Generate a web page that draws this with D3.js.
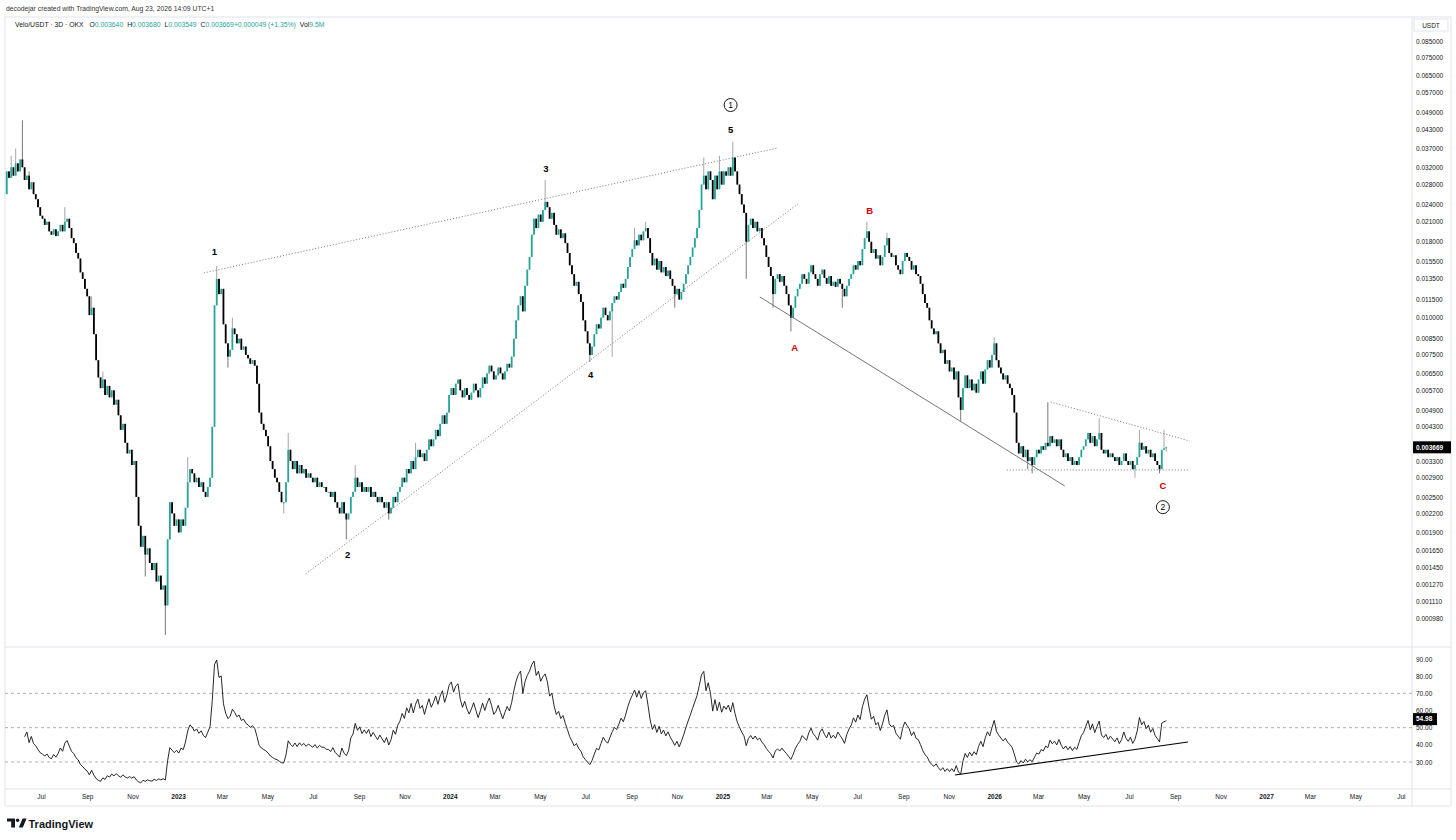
<!DOCTYPE html>
<html>
<head>
<meta charset="utf-8">
<script src="https://cdn.jsdelivr.net/npm/d3@7"></script>
<style>
body { margin: 0; background: #fff; }
svg { display: block; font-family: "Liberation Sans", Arial, sans-serif; }
</style>
</head>
<body>
<svg width="1456" height="840"></svg>
<script>
// ---- data (3D candles, Velo/USDT, OKX) ----
const startDate = new Date(Date.UTC(2022, 4, 16)); // first candle
const stepDays = 3;
const firstOpen = 0.026;
const closes = [
  0.031,0.0295,0.032,0.030,0.033,0.031,0.034,0.032,0.029,0.030,
  0.027,0.0285,0.026,0.025,0.0235,0.022,0.0215,0.0205,0.021,0.0195,
  0.019,0.0198,0.0188,0.0195,0.0205,0.0195,0.021,0.0215,0.020,0.0185,
  0.0178,0.0165,0.0158,0.0142,0.0135,0.0125,0.0118,0.0102,0.0108,0.0088,
  0.0072,0.0063,0.0058,0.0062,0.0055,0.0059,0.0054,0.0057,0.0051,0.0053,
  0.0047,0.0042,0.0044,0.0038,0.0035,0.0036,0.0032,0.0033,0.0025,0.0020,
  0.0017,0.00185,0.0016,0.00168,0.0015,0.00142,0.0015,0.0013,0.00136,0.00122,
  0.00126,0.00108,0.0018,0.0024,0.0022,0.0020,0.0021,0.0019,0.0021,0.0020,
  0.0023,0.0028,0.0031,0.0030,0.0028,0.0029,0.0027,0.0028,0.0026,0.0025,
  0.0027,0.0029,0.0043,0.0110,0.0135,0.0120,0.0125,0.0095,0.0082,0.0074,
  0.0078,0.0092,0.0088,0.0082,0.0085,0.0078,0.0080,0.0075,0.0073,0.0070,
  0.0072,0.0069,0.0060,0.0048,0.0044,0.0042,0.0040,0.0037,0.0033,0.0031,
  0.0029,0.0028,0.0026,0.0024,0.0024,0.0028,0.0036,0.0033,0.0031,0.0033,
  0.0030,0.0032,0.0030,0.0031,0.0029,0.0030,0.0029,0.0028,0.0029,0.0027,
  0.0028,0.0027,0.0027,0.0026,0.0026,0.0025,0.0026,0.0024,0.0023,0.0022,
  0.0024,0.0022,0.0021,0.0022,0.0025,0.0026,0.0029,0.0027,0.0028,0.0026,
  0.0027,0.0026,0.0027,0.0025,0.0026,0.0025,0.0024,0.0025,0.0024,0.0023,
  0.0024,0.0022,0.0023,0.0025,0.0024,0.0026,0.0027,0.0029,0.0028,0.0031,
  0.0030,0.0033,0.0031,0.0034,0.0036,0.0034,0.0035,0.0033,0.0036,0.0039,
  0.0037,0.0039,0.0042,0.0040,0.0044,0.0047,0.0044,0.0048,0.0055,0.0058,
  0.0055,0.0060,0.0062,0.0057,0.0054,0.0058,0.0055,0.0053,0.0056,0.0060,
  0.0057,0.0054,0.0058,0.0063,0.0060,0.0065,0.0069,0.0066,0.0062,0.0064,
  0.0068,0.0065,0.0062,0.0066,0.0070,0.0068,0.0074,0.0085,0.0098,0.0110,
  0.0118,0.0105,0.0128,0.0145,0.0160,0.0190,0.0215,0.0200,0.0222,0.0210,
  0.0230,0.0245,0.0235,0.0215,0.0225,0.0205,0.0190,0.0198,0.0185,0.0192,
  0.0178,0.0165,0.0150,0.0140,0.0128,0.0132,0.0120,0.0113,0.0098,0.0090,
  0.0082,0.0075,0.0080,0.0088,0.0095,0.0092,0.0100,0.0108,0.0102,0.0098,
  0.0105,0.0112,0.0118,0.0115,0.0122,0.0130,0.0126,0.0135,0.0148,0.0160,
  0.0170,0.0182,0.0175,0.0190,0.0182,0.0195,0.0200,0.0185,0.0165,0.0150,
  0.0158,0.0145,0.0155,0.0142,0.0148,0.0138,0.0144,0.0135,0.0128,0.0120,
  0.0125,0.0115,0.0122,0.0130,0.0140,0.0150,0.0160,0.0172,0.0185,0.0200,
  0.0230,0.0280,0.0300,0.0270,0.0310,0.0290,0.0250,0.0300,0.0270,0.0310,
  0.0280,0.0310,0.0300,0.0320,0.0300,0.0345,0.0310,0.0280,0.0260,0.0240,
  0.0225,0.0180,0.0205,0.0215,0.0200,0.0210,0.0195,0.0200,0.0185,0.0175,
  0.0160,0.0148,0.0138,0.0120,0.0135,0.0140,0.0132,0.0138,0.0128,0.0120,
  0.0110,0.0100,0.0108,0.0118,0.0125,0.0130,0.0140,0.0135,0.0130,0.0142,
  0.0150,0.0140,0.0135,0.0128,0.0140,0.0145,0.0136,0.0130,0.0138,0.0128,
  0.0132,0.0127,0.0135,0.0130,0.0125,0.0118,0.0128,0.0135,0.0140,0.0150,
  0.0145,0.0155,0.0150,0.0170,0.0185,0.0195,0.0180,0.0165,0.0170,0.0158,
  0.0162,0.0150,0.0160,0.0175,0.0185,0.0165,0.0160,0.0162,0.0150,0.0145,
  0.0140,0.0155,0.0165,0.0160,0.0155,0.0145,0.0150,0.0140,0.0138,0.0130,
  0.0120,0.0112,0.0108,0.0098,0.0092,0.0088,0.0090,0.0082,0.0076,0.0078,
  0.0070,0.0072,0.0066,0.0068,0.0062,0.0066,0.0054,0.0049,0.0058,0.0064,
  0.0058,0.0062,0.0057,0.0060,0.0056,0.0062,0.0066,0.0060,0.0067,0.0072,
  0.0068,0.0075,0.0082,0.0072,0.0068,0.0065,0.0062,0.0064,0.0060,0.0058,
  0.0055,0.0048,0.0038,0.0035,0.0037,0.0034,0.0036,0.0033,0.0034,0.0032,
  0.0034,0.0036,0.0035,0.0037,0.0036,0.0038,0.0037,0.0040,0.0038,0.0039,
  0.0037,0.0039,0.0036,0.0034,0.0035,0.0033,0.0034,0.0032,0.0033,0.0032,
  0.0034,0.0036,0.0037,0.0039,0.0041,0.0038,0.0040,0.0037,0.0039,0.0041,
  0.0036,0.0035,0.0036,0.0034,0.0035,0.0034,0.0033,0.0034,0.0032,0.0033,
  0.0035,0.0033,0.0032,0.0033,0.0031,0.0032,0.0034,0.0038,0.0036,0.0037,
  0.0035,0.0036,0.0034,0.0035,0.0033,0.0032,0.0031,0.0036,0.00364,0.003669
];
// notable wicks beyond the bodies: [candle index, price]
const highWicks = [
  [2,0.035],[4,0.037],[7,0.046],[10,0.031],[26,0.0235],[38,0.0118],[43,0.0066],[81,0.0034],
  [94,0.0149],[101,0.0100],[113,0.0052],[126,0.0041],[156,0.0032],[183,0.0038],
  [241,0.029],[281,0.020],[286,0.021],[312,0.0345],[319,0.035],[325,0.039],
  [385,0.021],[394,0.0193],[442,0.0086],[466,0.0052],[489,0.0046],[507,0.0042],
  [518,0.0042],[519,0.00368]
];
const lowWicks = [
  [62,0.00135],[71,0.00086],[99,0.0068],[124,0.0022],[152,0.0018],[171,0.0021],
  [261,0.0071],[271,0.0074],[299,0.0108],[331,0.0135],[343,0.0108],[351,0.0090],
  [374,0.0108],[427,0.0045],[457,0.0031],[459,0.0030],[505,0.0029],[516,0.0030],
  [519,0.003549]
];
const priceTicks = [0.085,0.075,0.065,0.057,0.049,0.043,0.037,0.032,0.028,0.024,0.021,
  0.018,0.0155,0.0135,0.0115,0.010,0.0085,0.0075,0.0065,0.0057,0.0049,0.0043,0.0037,
  0.0033,0.0029,0.0025,0.0022,0.0019,0.00165,0.00145,0.00127,0.00111,0.00098];
const rsiTicks = [90,80,70,60,50,40,30];
const rsiLevels = [70,50,30];
const rsiLength = 14;
const rsiWarmup = 8;
const lastPrice = 0.003669;
const lastRsi = 54.98;
const timeTickLabels = ["Jul","Sep","Nov","2023","Mar","May","Jul","Sep","Nov","2024","Mar","May",
  "Jul","Sep","Nov","2025","Mar","May","Jul","Sep","Nov","2026","Mar","May","Jul","Sep","Nov",
  "2027","Mar","May","Jul"];
const legendItems = [["O","0.003640"],["H","0.003680"],["L","0.003549"],["C","0.003669"],["","+0.000049 (+1.35%)"],["Vol","9.5M"]];
// elliott wave labels: candle index, price
const waveLabels = [
  {t:"1", i:93, p:0.0166, c:"#000"},
  {t:"2", i:152.6, p:0.0016, c:"#000"},
  {t:"3", i:241.3, p:0.0316, c:"#000"},
  {t:"4", i:261.4, p:0.00642, c:"#000"},
  {t:"5", i:324, p:0.0427, c:"#000"},
  {t:"1", i:324, p:0.0518, c:"#000", ring:true},
  {t:"A", i:352.7, p:0.00791, c:"#c00"},
  {t:"B", i:386.3, p:0.0228, c:"#c00"},
  {t:"C", i:517.5, p:0.00272, c:"#c00"},
  {t:"2", i:517.5, p:0.00231, c:"#000", ring:true}
];
// drawn trendlines: [i1, p1, i2, p2]
const priceLines = [
  {a:[88.2,0.01414,345.1,0.03715], dash:true},
  {a:[133.8,0.001378,354.1,0.0241], dash:true},
  {a:[337.1,0.01174,473.6,0.00272], dash:false},
  {a:[467.3,0.00521,529.5,0.003853], dash:true},
  {a:[447.6,0.00308,529.5,0.00308], dash:true}
];
const rsiLine = [424.4,22.4,528.7,41.65];

// ---- layout ----
const frameL = 5, paneR = 1412, axisR = 1451, frameT = 17;
const priceB = 647, rsiB = 789, frameB = 806;
const teal = "#26a69a";

const svg = d3.select("svg");
const dayMs = 864e5;
const dateOf = i => new Date(startDate.getTime() + i * stepDays * dayMs);

const x = d3.scaleUtc()
  .domain([new Date(Date.UTC(2022, 6, 1)), new Date(Date.UTC(2026, 6, 1))])
  .range([41, 1129]);
const y = d3.scaleLog().domain([0.00098, 0.085]).range([618, 41]);
const yR = d3.scaleLinear().domain([30, 90]).range([762, 659]);
const xi = i => x(dateOf(i));

const defs = svg.append("defs");
defs.append("clipPath").attr("id", "cp").append("rect")
  .attr("x", frameL).attr("y", frameT).attr("width", paneR - frameL).attr("height", priceB - frameT);
defs.append("clipPath").attr("id", "cr").append("rect")
  .attr("x", frameL).attr("y", priceB).attr("width", paneR - frameL).attr("height", rsiB - priceB);

// header
svg.append("text").attr("x", 6).attr("y", 11).attr("font-size", 6.8).attr("fill", "#333")
  .text("decodejar created with TradingView.com, Aug 23, 2026 14:09 UTC+1");

// frame
const frame = svg.append("g").attr("stroke", "#e0e3eb").attr("fill", "none");
frame.append("rect").attr("x", frameL).attr("y", frameT).attr("width", axisR - frameL).attr("height", frameB - frameT);
frame.append("line").attr("x1", paneR).attr("x2", paneR).attr("y1", frameT).attr("y2", frameB);
frame.append("line").attr("x1", frameL).attr("x2", axisR).attr("y1", priceB).attr("y2", priceB);
frame.append("line").attr("x1", frameL).attr("x2", axisR).attr("y1", rsiB).attr("y2", rsiB);
svg.append("rect").attr("x", 1414).attr("y", 19).attr("width", 34).attr("height", 12)
  .attr("fill", "#fff").attr("stroke", "#e0e3eb");
svg.append("text").attr("x", 1431).attr("y", 27.5).attr("text-anchor", "middle")
  .attr("font-size", 6.5).attr("fill", "#131722").text("USDT");

// legend
const leg = svg.append("text").attr("x", 15).attr("y", 26.5).attr("font-size", 6.8).attr("fill", "#131722");
leg.append("tspan").text("Velo/USDT · 3D · OKX ");
legendItems.forEach(([k, v]) => {
  leg.append("tspan").attr("dx", 4).text(k);
  leg.append("tspan").attr("fill", teal).text(v);
});

// ---- candles ----
const candles = closes.map((c, i) => {
  const o = i === 0 ? firstOpen : closes[i - 1];
  return { i, o, c, h: Math.max(o, c), l: Math.min(o, c) };
});
highWicks.forEach(([i, p]) => { candles[i].h = Math.max(candles[i].h, p); });
lowWicks.forEach(([i, p]) => { candles[i].l = Math.min(candles[i].l, p); });

const cg = svg.append("g").attr("clip-path", "url(#cp)");
cg.selectAll("line.wick").data(candles).join("line")
  .attr("class", "wick")
  .attr("x1", d => xi(d.i)).attr("x2", d => xi(d.i))
  .attr("y1", d => y(d.h)).attr("y2", d => y(d.l))
  .attr("stroke", d => d.c >= d.o ? "#8f8f8f" : "#555").attr("stroke-width", 0.8);
cg.selectAll("rect.body").data(candles).join("rect")
  .attr("class", "body")
  .attr("x", d => xi(d.i) - 0.9).attr("width", 1.8)
  .attr("y", d => y(Math.max(d.o, d.c)))
  .attr("height", d => Math.max(1, y(Math.min(d.o, d.c)) - y(Math.max(d.o, d.c))))
  .attr("fill", d => d.c >= d.o ? teal : "#000");

// trendlines
cg.selectAll("line.tl").data(priceLines).join("line")
  .attr("x1", d => xi(d.a[0])).attr("y1", d => y(d.a[1]))
  .attr("x2", d => xi(d.a[2])).attr("y2", d => y(d.a[3]))
  .attr("stroke", "#666").attr("stroke-width", 0.9)
  .attr("stroke-dasharray", d => d.dash ? "1,2" : null);

// wave labels
const wl = cg.selectAll("g.wave").data(waveLabels).join("g")
  .attr("transform", d => `translate(${xi(d.i)},${y(d.p)})`);
wl.filter(d => d.ring).append("circle").attr("r", 6.5)
  .attr("fill", "#fff").attr("stroke", "#000").attr("stroke-width", 0.9);
wl.append("text").attr("text-anchor", "middle").attr("dy", "0.35em")
  .attr("font-size", d => d.ring ? 8.5 : 9.5).attr("font-weight", d => d.ring ? 400 : 600)
  .attr("fill", d => d.c).text(d => d.t);

// ---- price axis ----
const pAxis = svg.append("g").attr("transform", `translate(${paneR},0)`)
  .call(d3.axisRight(y).tickValues(priceTicks).tickFormat(d3.format(".6f")).tickSize(0).tickPadding(4));
pAxis.select(".domain").remove();
pAxis.selectAll("text").attr("font-size", 6.5).attr("fill", "#131722").attr("font-family", null);

svg.append("rect").attr("x", paneR + 1).attr("y", y(lastPrice) - 6).attr("width", 38).attr("height", 12).attr("fill", "#000");
svg.append("text").attr("x", paneR + 4).attr("y", y(lastPrice)).attr("dy", "0.35em")
  .attr("font-size", 6.5).attr("font-weight", 700).attr("fill", "#fff").text(d3.format(".6f")(lastPrice));

// ---- RSI pane ----
function computeRsi(vals, n, from) {
  const out = [];
  let ag = 0, al = 0;
  for (let i = 1; i < vals.length; i++) {
    const ch = vals[i] - vals[i - 1];
    const k = Math.min(i, n);
    ag = (ag * (k - 1) + Math.max(ch, 0)) / k;
    al = (al * (k - 1) + Math.max(-ch, 0)) / k;
    if (i >= from) out.push({ i, v: al === 0 ? 100 : 100 - 100 / (1 + ag / al) });
  }
  return out;
}
const rsiData = computeRsi(closes, rsiLength, rsiWarmup);

const rg = svg.append("g").attr("clip-path", "url(#cr)");
rg.selectAll("line.lvl").data(rsiLevels).join("line")
  .attr("x1", frameL).attr("x2", paneR).attr("y1", d => yR(d)).attr("y2", d => yR(d))
  .attr("stroke", "#9a9a9a").attr("stroke-dasharray", "3,3").attr("stroke-width", 0.8);
rg.append("path").datum(rsiData)
  .attr("d", d3.line().x(d => xi(d.i)).y(d => yR(d.v)))
  .attr("fill", "none").attr("stroke", "#111").attr("stroke-width", 0.9);
rg.append("line")
  .attr("x1", xi(rsiLine[0])).attr("y1", yR(rsiLine[1]))
  .attr("x2", xi(rsiLine[2])).attr("y2", yR(rsiLine[3]))
  .attr("stroke", "#000").attr("stroke-width", 1.1);

const rAxis = svg.append("g").attr("transform", `translate(${paneR},0)`)
  .call(d3.axisRight(yR).tickValues(rsiTicks).tickFormat(d3.format(".2f")).tickSize(0).tickPadding(4));
rAxis.select(".domain").remove();
rAxis.selectAll("text").attr("font-size", 6.5).attr("fill", "#131722").attr("font-family", null);
svg.append("rect").attr("x", paneR + 1).attr("y", yR(lastRsi) - 6).attr("width", 24).attr("height", 12).attr("fill", "#000");
svg.append("text").attr("x", paneR + 4).attr("y", yR(lastRsi)).attr("dy", "0.35em")
  .attr("font-size", 6.5).attr("font-weight", 700).attr("fill", "#fff").text(d3.format(".2f")(lastRsi));

// ---- time axis ----
const tickDates = d3.utcMonth.every(2).range(new Date(Date.UTC(2022, 6, 1)), new Date(Date.UTC(2027, 7, 1)));
const tAxis = svg.append("g").attr("transform", `translate(0,${rsiB})`)
  .call(d3.axisBottom(x).tickValues(tickDates).tickFormat((d, i) => timeTickLabels[i]).tickSize(0).tickPadding(5));
tAxis.select(".domain").remove();
tAxis.selectAll("text").attr("font-size", 6.5).attr("fill", "#131722").attr("font-family", null)
  .attr("font-weight", (d, i) => /^\d{4}$/.test(timeTickLabels[i]) ? 700 : 400);

// ---- TradingView mark ----
const logo = svg.append("g").attr("fill", "#131722");
logo.append("path").attr("d", "M7 818.5 H15 V827.5 H11.2 V821.6 H7 Z");
logo.append("circle").attr("cx", 17.6).attr("cy", 820.2).attr("r", 1.7);
logo.append("path").attr("d", "M18.8 827.5 L22.6 818.5 H26.6 L22.8 827.5 Z");
svg.append("text").attr("x", 28.5).attr("y", 827.5).attr("font-size", 11)
  .attr("font-weight", 700).attr("fill", "#131722").text("TradingView");
</script>
</body>
</html>
